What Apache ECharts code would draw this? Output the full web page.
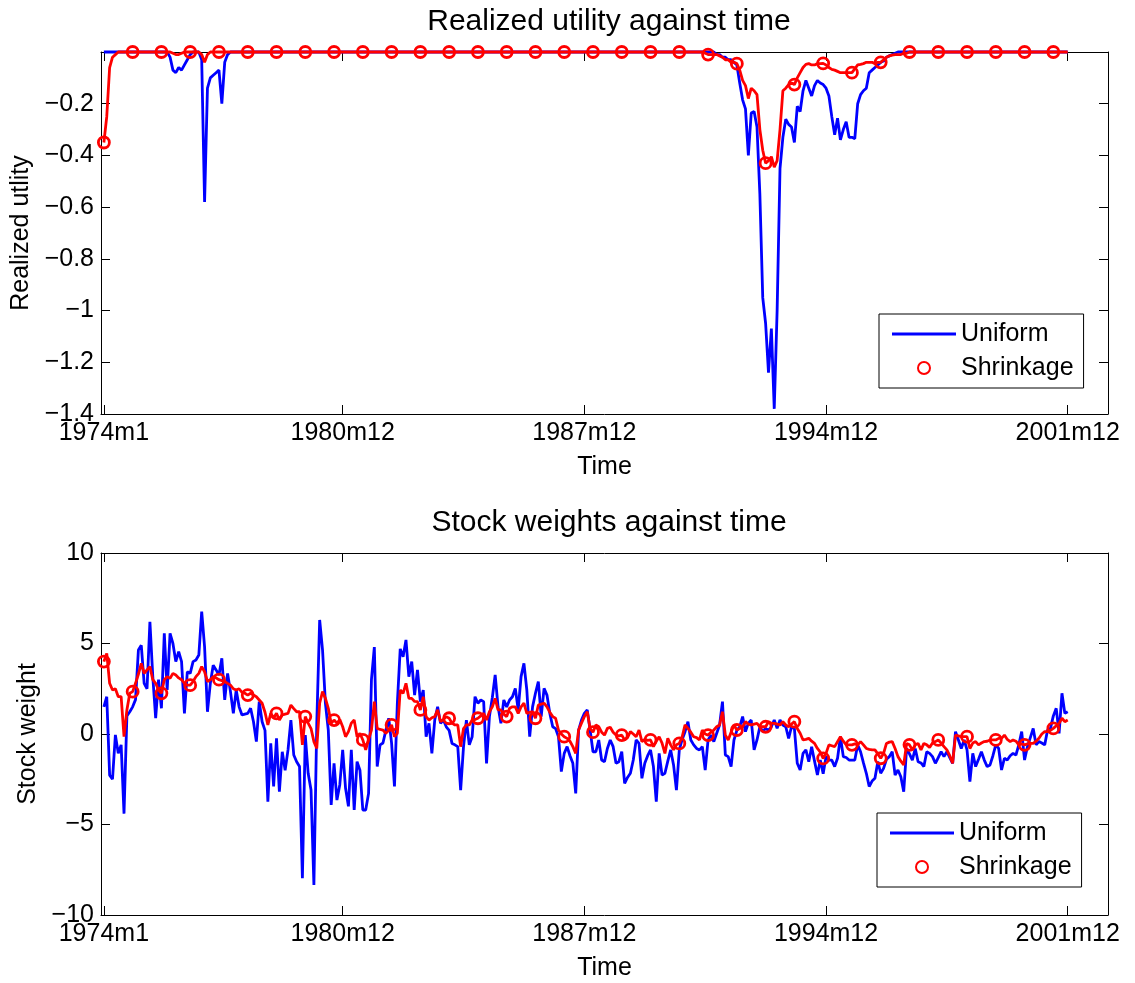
<!DOCTYPE html>
<html>
<head>
<meta charset="utf-8">
<script src="https://cdn.jsdelivr.net/npm/echarts@6/dist/echarts.min.js"></script>
<style>
html,body{margin:0;padding:0;background:#fff;}
#chart{width:1135px;height:983px;}
</style>
</head>
<body>
<div id="chart"></div>
<script>
// Time axis tick labels (month index 1 = 1974m1)
const tickLabels = ['1974m1', '1980m12', '1987m12', '1994m12', '2001m12'];
const tickMonths = [1, 84, 168, 252, 336];

// Realized utility, Uniform (months 1..336)
const utilUniform = [
 0,0,0,0,0,0,0,0,0,0,
 0,0,0,0,0,0,0,0,0,0,
 0,0,0,-0.02,-0.07,-0.08,-0.06,-0.07,-0.05,-0.03,
 -0.01,0,0,0,-0.03,-0.58,-0.14,-0.10,-0.09,-0.08,
 -0.07,-0.20,-0.04,-0.01,0,0,0,0,0,0,
 0,0,0,0,0,0,0,0,0,0,
 0,0,0,0,0,0,0,0,0,0,
 0,0,0,0,0,0,0,0,0,0,
 0,0,0,0,0,0,0,0,0,0,
 0,0,0,0,0,0,0,0,0,0,
 0,0,0,0,0,0,0,0,0,0,
 0,0,0,0,0,0,0,0,0,0,
 0,0,0,0,0,0,0,0,0,0,
 0,0,0,0,0,0,0,0,0,0,
 0,0,0,0,0,0,0,0,0,0,
 0,0,0,0,0,0,0,0,0,0,
 0,0,0,0,0,0,0,0,0,0,
 0,0,0,0,0,0,0,0,0,0,
 0,0,0,0,0,0,0,0,0,0,
 0,0,0,0,0,0,0,0,0,0,
 0,0,0,0,0,0,0,0,0,0,
 0,0,0,-0.01,-0.01,-0.02,-0.02,-0.03,-0.03,-0.04,
 -0.05,-0.12,-0.185,-0.22,-0.40,-0.236,-0.23,-0.29,-0.55,-0.95,
 -1.05,-1.24,-1.07,-1.38,-1.0,-0.45,-0.33,-0.26,-0.28,-0.29,
 -0.35,-0.21,-0.23,-0.15,-0.11,-0.14,-0.17,-0.13,-0.11,-0.12,
 -0.126,-0.14,-0.17,-0.25,-0.32,-0.256,-0.34,-0.30,-0.27,-0.33,
 -0.33,-0.335,-0.20,-0.165,-0.15,-0.14,-0.08,-0.07,-0.06,-0.05,
 -0.04,-0.035,-0.02,-0.015,-0.01,-0.005,0,0,0,0,
 0,0,0,0,0,0,0,0,0,0,
 0,0,0,0,0,0,0,0,0,0,
 0,0,0,0,0,0,0,0,0,0,
 0,0,0,0,0,0,0,0,0,0,
 0,0,0,0,0,0,0,0,0,0,
 0,0,0,0,0,0
];

// Realized utility, Shrinkage
const utilShrink = [
 -0.35,-0.25,-0.06,-0.02,-0.01,0,0,0,0,0,
 0,0,0,0,0,0,0,0,0,0,
 0,0,0,0,-0.005,-0.01,-0.01,-0.005,0,0,
 0,0,0,0,-0.01,-0.04,-0.01,0,0,0,
 0,0,0,0,0,0,0,0,0,0,
 0,0,0,0,0,0,0,0,0,0,
 0,0,0,0,0,0,0,0,0,0,
 0,0,0,0,0,0,0,0,0,0,
 0,0,0,0,0,0,0,0,0,0,
 0,0,0,0,0,0,0,0,0,0,
 0,0,0,0,0,0,0,0,0,0,
 0,0,0,0,0,0,0,0,0,0,
 0,0,0,0,0,0,0,0,0,0,
 0,0,0,0,0,0,0,0,0,0,
 0,0,0,0,0,0,0,0,0,0,
 0,0,0,0,0,0,0,0,0,0,
 0,0,0,0,0,0,0,0,0,0,
 0,0,0,0,0,0,0,0,0,0,
 0,0,0,0,0,0,0,0,0,0,
 0,0,0,0,0,0,0,0,0,0,
 0,0,0,0,0,0,0,0,0,-0.005,
 -0.01,-0.01,-0.01,-0.01,-0.015,-0.02,-0.03,-0.03,-0.04,-0.04,
 -0.045,-0.07,-0.11,-0.13,-0.18,-0.14,-0.15,-0.165,-0.30,-0.38,
 -0.43,-0.42,-0.405,-0.445,-0.42,-0.30,-0.15,-0.14,-0.126,-0.12,
 -0.126,-0.10,-0.08,-0.06,-0.048,-0.045,-0.05,-0.05,-0.045,-0.045,
 -0.044,-0.05,-0.06,-0.067,-0.07,-0.075,-0.08,-0.08,-0.08,-0.08,
 -0.08,-0.065,-0.05,-0.048,-0.045,-0.04,-0.04,-0.04,-0.045,-0.04,
 -0.04,-0.03,-0.02,-0.015,-0.012,-0.01,-0.01,-0.01,-0.005,-0.005,
 0,0,0,0,0,0,0,0,0,0,
 0,0,0,0,0,0,0,0,0,0,
 0,0,0,0,0,0,0,0,0,0,
 0,0,0,0,0,0,0,0,0,0,
 0,0,0,0,0,0,0,0,0,0,
 0,0,0,0,0,0
];

// Stock weight, Uniform
const weightUniform = [
 1.5,2.06,-2.27,-2.5,-0.05,-1.07,-0.6,-4.4,1.0,1.23,
 1.5,1.9,4.64,4.9,2.8,2.5,6.2,3.17,0.87,3.0,
 1.42,5.56,2.43,5.56,5.0,4.0,4.55,4.0,1.14,3.44,
 3.35,4.0,4.09,4.36,6.76,4.82,1.23,2.8,3.8,3.54,
 3.26,4.18,1.88,3.35,2.34,1.14,2.43,1.5,1.05,1.1,
 1.14,1.42,0.68,-0.42,1.79,0.68,0.2,-3.74,-0.52,-2.9,
 -0.24,-3.19,-0.98,-2.0,-0.88,0.77,-1.16,-1.53,-1.8,-7.97,
 -0.06,-2.17,-3.1,-8.34,0.59,6.3,4.64,1.69,0.22,-3.92,
 -1.62,-3.65,-2.8,-0.88,-3.0,-4.0,-0.88,-4.2,-1.53,-2.0,
 -4.2,-4.2,-3.28,3.0,4.8,-1.8,-0.6,-0.5,0.2,0.87,
 -0.5,-2.9,1.7,4.7,4.27,5.2,3.17,4.0,2.15,3.54,
 1.79,2.43,-0.15,0.59,-1.07,0.77,1.5,0.59,0.77,0.4,
 0.2,-0.52,-0.6,-0.7,-3.1,-0.7,0.77,-0.6,-0.15,2.06,
 1.7,1.88,1.79,-1.62,0.96,2.0,3.26,1.5,0.59,1.88,
 1.5,1.88,2.06,2.52,1.33,3.17,3.9,2.43,-0.15,1.5,
 2.25,2.9,0.96,2.52,2.15,1.14,0.4,0.3,-0.15,-2.08,
 -1.07,-0.7,-1.2,-1.62,-3.28,0.22,0.77,1.14,1.33,0.22,
 -0.98,-0.98,-0.33,-1.44,-1.53,-0.8,-0.33,-0.7,-1.62,-1.53,
 -0.98,-2.73,-2.4,-2.17,-1.44,-0.33,-0.52,-2.45,-1.62,-1.2,
 -0.88,-1.8,-3.74,-1.07,-2.27,-2.17,-1.5,-0.88,-1.71,-3.1,
 -0.88,-0.3,0.13,0.68,-0.33,-0.6,-0.8,-0.88,-0.7,-1.99,
 -0.33,-0.06,-0.42,0.04,0.5,1.79,-1.16,-1.25,-1.8,-0.33,
 0.2,0.4,0.96,0.13,0.6,0.77,-0.88,-0.33,0.4,0.13,
 0.31,0.2,0.4,0.77,0.31,0.77,0.5,0.4,-0.24,0.4,
 0.3,-1.62,-1.99,-1.07,-0.88,-1.53,-0.7,-1.5,-2.27,-1.44,
 -2.2,-1.25,-1.44,-1.44,-1.8,-1.34,-0.15,-1.25,-1.3,-1.44,
 -1.44,-1.44,-0.6,-0.98,-1.6,-2.17,-2.9,-2.6,-2.45,-1.53,
 -2.17,-1.9,-1.4,-1.25,-0.98,-2.27,-1.99,-2.36,-3.19,-0.8,
 -1.1,-1.44,-0.8,-1.53,-1.6,-1.8,-0.98,-1.07,-1.25,-1.62,
 -1.3,-0.98,-1.25,-0.98,-1.3,-1.62,0.13,-0.33,-0.8,-0.33,
 -0.88,-2.63,-1.07,-1.8,-1.4,-0.98,-1.44,-1.8,-1.71,-1.2,
 -0.6,-0.8,-1.99,-1.34,-1.44,-1.2,-1.07,-1.16,-0.6,0.13,
 -1.44,-0.7,-0.2,0.31,-0.6,-0.42,-0.5,-0.6,0.22,0.31,
 1.0,1.42,0.04,2.25,1.14,1.23
];

// Stock weight, Shrinkage
const weightShrink = [
 4.0,4.45,2.8,2.43,2.5,2.06,2.06,-0.15,1.33,2.25,
 2.34,2.8,3.3,3.9,3.35,3.54,3.72,3.0,2.8,2.43,
 2.25,3.0,3.17,3.07,3.35,3.26,3.1,3.0,2.8,2.7,
 2.7,2.9,3.17,3.35,3.72,3.44,2.9,3.0,3.17,3.1,
 3.0,2.95,2.9,2.8,2.7,2.5,2.43,2.5,2.3,2.25,
 2.15,2.25,2.15,2.06,1.88,1.7,1.2,0.5,1.14,0.9,
 1.14,0.77,1.05,1.1,1.14,1.6,1.4,1.23,1.23,-0.6,
 0.96,0.6,0.3,-0.42,-0.8,1.7,2.34,1.97,1.42,0.59,
 0.77,0.6,0.8,0.4,-0.15,0.13,0.6,0.77,-0.15,0.04,
 -0.33,-0.88,-0.3,0.22,1.79,0.31,0.25,0.22,0.04,0.2,
 0.5,-0.15,0.04,2.43,2.25,2.8,1.97,1.97,1.8,1.79,
 1.33,2.06,0.96,0.77,0.9,0.96,1.33,0.68,0.8,0.96,
 0.87,0.6,0.5,0.5,-0.7,0.3,0.5,0.5,0.77,0.8,
 0.87,1.0,1.14,0.77,1.23,1.5,1.97,1.33,1.33,1.1,
 0.96,1.42,1.5,1.5,1.14,1.5,1.7,1.14,1.2,1.23,
 0.87,1.6,1.65,1.7,1.5,1.2,0.96,0.87,0.22,0.0,
 -0.15,-0.24,-0.4,-0.7,-1.07,0.22,0.6,0.96,1.23,0.3,
 0.1,0.5,0.4,0.1,-0.06,0.31,0.37,0.1,-0.06,-0.1,
 -0.06,-0.33,-0.2,0.13,0.0,-0.15,0.22,-0.42,-0.3,-0.35,
 -0.33,-0.7,-0.4,-0.15,-0.5,-1.07,-0.24,-0.6,-0.88,-0.6,
 -0.52,-0.15,0.5,0.31,0.1,-0.15,-0.2,-0.33,0.22,0.0,
 -0.06,0.1,0.22,0.4,0.5,1.23,-0.06,-0.33,0.1,0.5,
 0.22,0.3,0.4,0.68,0.55,0.5,0.55,0.59,0.4,0.4,
 0.4,0.68,0.6,0.59,0.55,0.5,0.68,0.5,0.4,0.55,
 0.68,0.3,0.04,-0.33,-0.3,-0.24,-0.4,-0.52,-0.8,-1.0,
 -1.35,-1.07,-0.6,-0.65,-0.7,-0.42,-0.15,-0.4,-0.6,-0.6,
 -0.6,-0.55,-0.6,-0.42,-0.6,-0.8,-0.85,-0.88,-0.88,-1.1,
 -1.34,-1.07,-0.52,-0.45,-0.42,-0.8,-1.25,-1.5,-1.71,-0.52,
 -0.6,-0.88,-0.6,-0.52,-0.88,-0.52,-0.6,-0.74,-0.5,-0.42,
 -0.33,-0.5,-0.7,-0.88,-1.2,-1.62,-0.06,-0.1,-0.15,-0.15,
 -0.15,-0.8,-0.5,-0.42,-0.6,-0.5,-0.42,-0.4,-0.33,-0.33,
 -0.33,-0.24,-0.24,-0.06,-0.3,-0.42,-0.33,-0.4,-0.6,-0.55,
 -0.6,-0.55,-0.52,-0.52,-0.4,-0.24,0.0,0.13,0.13,0.2,
 0.31,0.45,0.59,0.87,0.68,0.77
];

const FONT = "'Liberation Sans', Arial, Helvetica, sans-serif";
const BLUE = '#0000ff', RED = '#ff0000';
const MARK_EVERY = 10;

const pairs = arr => arr.map((v, k) => [k + 1, v]);
const marks = arr => arr.map((v, k) => [k + 1, v]).filter((p, k) => k % MARK_EVERY === 0);
const minus = s => String(s).replace('-', '\u2212');

const txt = {fontFamily: FONT, fontSize: 25, color: '#000'};
const axisLine = {onZero: false, lineStyle: {color: '#000', width: 1}};

function xAxesFor(gridIndex) {
  return [
    {
      gridIndex, type: 'value', min: 0, max: 350, position: 'bottom',
      name: 'Time', nameLocation: 'middle', nameGap: 41, nameTextStyle: txt,
      axisLine,
      axisTick: {inside: true, length: 9, customValues: tickMonths, lineStyle: {color: '#000'}},
      axisLabel: Object.assign({customValues: tickMonths, margin: 7,
        formatter: v => tickLabels[tickMonths.indexOf(v)] || ''}, txt),
      splitLine: {show: false}
    },
    {
      gridIndex, type: 'value', min: 0, max: 350, position: 'top',
      axisLine,
      axisTick: {inside: true, length: 9, customValues: tickMonths, lineStyle: {color: '#000'}},
      axisLabel: {show: false},
      splitLine: {show: false}
    }
  ];
}

function yAxesFor(gridIndex, min, max, interval, name, nameGap, fmt) {
  return [
    {
      gridIndex, type: 'value', min, max, interval, position: 'left',
      name, nameLocation: 'middle', nameGap, nameRotate: 90, nameTextStyle: txt,
      axisLine,
      axisTick: {inside: true, length: 9, lineStyle: {color: '#000'}},
      axisLabel: Object.assign({margin: 7, formatter: fmt}, txt),
      splitLine: {show: false}
    },
    {
      gridIndex, type: 'value', min, max, interval, position: 'right',
      axisLine,
      axisTick: {inside: true, length: 9, lineStyle: {color: '#000'}},
      axisLabel: {show: false},
      splitLine: {show: false}
    }
  ];
}

function seriesFor(xi, yi, uni, shr) {
  return [
    {type: 'line', name: 'Uniform', xAxisIndex: xi, yAxisIndex: yi, data: pairs(uni),
     symbol: 'none', clip: false, z: 2, silent: true,
     lineStyle: {color: BLUE, width: 2.8}, itemStyle: {color: BLUE}},
    {type: 'line', name: 'Shrinkage path', xAxisIndex: xi, yAxisIndex: yi, data: pairs(shr),
     symbol: 'none', clip: false, z: 3, silent: true,
     lineStyle: {color: RED, width: 2.8}, itemStyle: {color: RED}},
    {type: 'scatter', name: 'Shrinkage', xAxisIndex: xi, yAxisIndex: yi, data: marks(shr),
     symbol: 'circle', symbolSize: 11, clip: false, z: 4, silent: true,
     itemStyle: {color: 'rgba(255,255,255,0)', borderColor: RED, borderWidth: 2.8, opacity: 1}}
  ];
}

function legendAt(left, top) {
  return {
    left, top, orient: 'vertical',
    data: [
      {name: 'Uniform', icon: 'path://M0,0L64,0L64,3L0,3Z', itemStyle: {color: BLUE, borderWidth: 0}},
      {name: 'Shrinkage'}
    ],
    itemWidth: 64, itemHeight: 12, itemGap: 6, padding: [6, 10, 6, 13],
    borderColor: '#000', borderWidth: 1, backgroundColor: '#fff', borderRadius: 0,
    textStyle: Object.assign({lineHeight: 28}, txt)
  };
}

const chart = echarts.init(document.getElementById('chart'), null, {renderer: 'canvas'});
chart.setOption({
  animation: false,
  backgroundColor: '#fff',
  title: [
    {text: 'Realized utility against time', left: 604, top: 2, textAlign: 'center',
     textStyle: {fontFamily: FONT, fontSize: 30, fontWeight: 'normal', color: '#000'}},
    {text: 'Stock weights against time', left: 604, top: 503, textAlign: 'center',
     textStyle: {fontFamily: FONT, fontSize: 30, fontWeight: 'normal', color: '#000'}}
  ],
  grid: [
    {left: 101, right: 27, top: 52, height: 362},
    {left: 101, right: 27, top: 553, height: 362}
  ],
  legend: [legendAt(879, 314), legendAt(877, 813)],
  xAxis: [...xAxesFor(0), ...xAxesFor(1)],
  yAxis: [
    ...yAxesFor(0, -1.4, 0, 0.2, 'Realized utlity', 62,
      v => (Math.abs(v) < 1e-9 ? '' : minus(+v.toFixed(1)))),
    ...yAxesFor(1, -10, 10, 5, 'Stock weight', 50, v => minus(v))
  ],
  series: [
    ...seriesFor(0, 0, utilUniform, utilShrink),
    ...seriesFor(2, 2, weightUniform, weightShrink)
  ]
});
</script>
</body>
</html>
